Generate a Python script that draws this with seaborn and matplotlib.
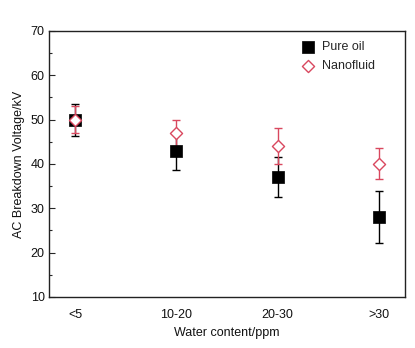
import matplotlib
matplotlib.use("Agg")
import matplotlib.pyplot as plt
import seaborn as sns
import pandas as pd
from matplotlib.ticker import MultipleLocator

categories = ["<5", "10-20", "20-30", ">30"]
pure_oil = [50, 43, 37, 28]
pure_err = [3.6, 4.3, 4.5, 5.8]
nano = [50, 47, 44, 40]
nano_err = [3.0, 3.0, 4.0, 3.5]

sns.set_theme(style="white")
plt.rcParams['font.family'] = ['Liberation Sans', 'DejaVu Sans']

fig, ax = plt.subplots(figsize=(4.15, 3.48), dpi=100)
fig.subplots_adjust(left=0.118, right=0.976, top=0.911, bottom=0.147)

red = "#d9485f"
xpos = list(range(len(categories)))

df = pd.DataFrame({
    "x": xpos * 2,
    "y": pure_oil + nano,
    "series": ["Pure oil"] * 4 + ["Nanofluid"] * 4,
})

ax.errorbar(xpos, pure_oil, yerr=pure_err, fmt="none", ecolor="black",
            elinewidth=1.0, capsize=3, capthick=1.0, zorder=2)
ax.errorbar(xpos, nano, yerr=nano_err, fmt="none", ecolor=red,
            elinewidth=1.0, capsize=3, capthick=1.0, zorder=3)

sns.scatterplot(data=df[df.series == "Pure oil"], x="x", y="y", marker="s",
                color="black", s=65, edgecolor="black", linewidth=0.5,
                ax=ax, label="Pure oil", zorder=4)
sns.scatterplot(data=df[df.series == "Nanofluid"], x="x", y="y", marker="D",
                facecolor="white", edgecolor=red, s=38, linewidth=1.0,
                ax=ax, label="Nanofluid", zorder=5)

ax.set_xlim(-0.26, 3.26)
ax.set_ylim(10, 70)
ax.set_xticks(xpos)
ax.set_xticklabels(categories)
ax.yaxis.set_major_locator(MultipleLocator(10))
ax.yaxis.set_minor_locator(MultipleLocator(5))
ax.tick_params(axis="y", which="major", direction="in", length=4, width=0.8,
               left=True, labelsize=9, pad=3, labelcolor="#111111")
ax.tick_params(axis="y", which="minor", direction="in", length=2.5, width=0.8, left=True)
ax.tick_params(axis="x", which="both", bottom=False, labelsize=9, pad=3,
               labelcolor="#111111")
ax.set_xlabel("Water content/ppm", fontsize=9, labelpad=4, color="#111111")
ax.set_ylabel("AC Breakdown Voltage/kV", fontsize=9, labelpad=4, color="#111111")

for sp in ax.spines.values():
    sp.set_color("#222222")
    sp.set_linewidth(1.0)

leg = ax.legend(loc="upper right", frameon=False, fontsize=9,
                handletextpad=0.1, borderaxespad=0.6, labelspacing=0.6,
                bbox_to_anchor=(0.95, 1.01))

fig.savefig("out.png", dpi=100)
